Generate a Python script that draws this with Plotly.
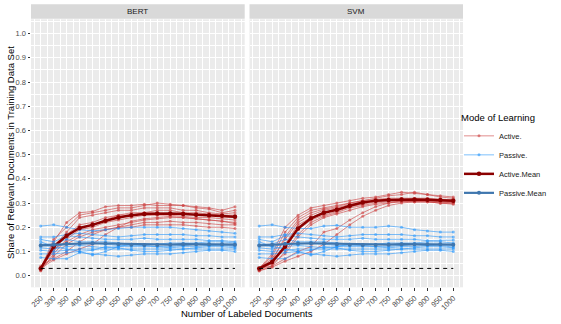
import plotly.graph_objects as go

W, H = 561, 324
n_labeled = [250, 300, 350, 400, 450, 500, 550, 600, 650, 700, 750, 800, 850, 900, 950, 1000]
panels = ["BERT", "SVM"]
baseline_share = 0.03

bert_active = [
    [0.03, 0.14, 0.22, 0.26, 0.265, 0.285, 0.29, 0.29, 0.295, 0.29, 0.29, 0.29, 0.285, 0.28, 0.27, 0.285],
    [0.03, 0.15, 0.20, 0.25, 0.26, 0.27, 0.28, 0.28, 0.29, 0.30, 0.295, 0.29, 0.28, 0.275, 0.26, 0.27],
    [0.02, 0.12, 0.18, 0.24, 0.25, 0.26, 0.27, 0.27, 0.28, 0.28, 0.28, 0.27, 0.27, 0.26, 0.255, 0.26],
    [0.03, 0.10, 0.17, 0.21, 0.22, 0.24, 0.25, 0.26, 0.26, 0.27, 0.27, 0.26, 0.26, 0.255, 0.25, 0.25],
    [0.03, 0.12, 0.16, 0.20, 0.21, 0.23, 0.25, 0.25, 0.26, 0.26, 0.255, 0.26, 0.25, 0.25, 0.245, 0.24],
    [0.02, 0.09, 0.15, 0.19, 0.20, 0.22, 0.23, 0.24, 0.25, 0.25, 0.25, 0.245, 0.24, 0.24, 0.235, 0.23],
    [0.03, 0.11, 0.14, 0.17, 0.19, 0.20, 0.21, 0.22, 0.23, 0.235, 0.24, 0.24, 0.235, 0.23, 0.225, 0.22],
    [0.03, 0.08, 0.13, 0.16, 0.18, 0.19, 0.20, 0.21, 0.22, 0.22, 0.225, 0.22, 0.22, 0.215, 0.21, 0.21],
    [0.04, 0.07, 0.10, 0.14, 0.17, 0.19, 0.20, 0.20, 0.21, 0.21, 0.21, 0.21, 0.205, 0.20, 0.20, 0.195],
    [0.03, 0.065, 0.09, 0.11, 0.13, 0.17, 0.20, 0.225, 0.235, 0.24, 0.245, 0.24, 0.235, 0.23, 0.225, 0.215],
]
bert_passive = [
    [0.205, 0.21, 0.20, 0.19, 0.185, 0.19, 0.195, 0.20, 0.20, 0.20, 0.20, 0.195, 0.19, 0.185, 0.18, 0.175],
    [0.16, 0.16, 0.17, 0.175, 0.17, 0.165, 0.16, 0.165, 0.17, 0.17, 0.17, 0.17, 0.165, 0.165, 0.16, 0.16],
    [0.15, 0.14, 0.165, 0.16, 0.155, 0.15, 0.15, 0.15, 0.155, 0.15, 0.15, 0.15, 0.15, 0.145, 0.145, 0.14],
    [0.13, 0.13, 0.15, 0.14, 0.14, 0.14, 0.135, 0.13, 0.13, 0.13, 0.135, 0.135, 0.135, 0.14, 0.14, 0.135],
    [0.125, 0.12, 0.13, 0.13, 0.135, 0.13, 0.125, 0.125, 0.125, 0.12, 0.12, 0.125, 0.13, 0.13, 0.13, 0.13],
    [0.115, 0.11, 0.12, 0.125, 0.12, 0.115, 0.12, 0.12, 0.12, 0.12, 0.115, 0.12, 0.12, 0.125, 0.125, 0.12],
    [0.105, 0.10, 0.105, 0.11, 0.11, 0.11, 0.11, 0.11, 0.11, 0.11, 0.11, 0.11, 0.115, 0.12, 0.12, 0.115],
    [0.09, 0.09, 0.095, 0.10, 0.105, 0.12, 0.115, 0.105, 0.10, 0.10, 0.105, 0.11, 0.11, 0.11, 0.11, 0.11],
    [0.075, 0.07, 0.07, 0.095, 0.09, 0.085, 0.08, 0.085, 0.09, 0.09, 0.09, 0.095, 0.10, 0.105, 0.105, 0.10],
    [0.14, 0.12, 0.11, 0.10, 0.085, 0.10, 0.12, 0.13, 0.125, 0.13, 0.13, 0.125, 0.13, 0.125, 0.13, 0.125],
]
bert_active_mean = [0.03, 0.12, 0.165, 0.197, 0.21, 0.227, 0.24, 0.25, 0.255, 0.257, 0.257, 0.255, 0.252, 0.25, 0.248, 0.243]
bert_passive_mean = [0.125, 0.128, 0.132, 0.133, 0.134, 0.133, 0.13, 0.128, 0.127, 0.127, 0.128, 0.13, 0.13, 0.13, 0.13, 0.128]

svm_active = [
    [0.03, 0.09, 0.20, 0.25, 0.28, 0.29, 0.30, 0.31, 0.32, 0.325, 0.335, 0.345, 0.34, 0.335, 0.33, 0.325],
    [0.03, 0.08, 0.18, 0.24, 0.27, 0.28, 0.29, 0.30, 0.31, 0.32, 0.33, 0.335, 0.345, 0.335, 0.325, 0.32],
    [0.02, 0.06, 0.16, 0.23, 0.26, 0.275, 0.285, 0.30, 0.31, 0.315, 0.32, 0.32, 0.32, 0.32, 0.315, 0.315],
    [0.03, 0.07, 0.15, 0.22, 0.25, 0.27, 0.28, 0.295, 0.305, 0.31, 0.315, 0.315, 0.315, 0.315, 0.31, 0.31],
    [0.025, 0.05, 0.13, 0.21, 0.24, 0.26, 0.275, 0.29, 0.30, 0.31, 0.31, 0.31, 0.31, 0.31, 0.31, 0.305],
    [0.03, 0.06, 0.12, 0.19, 0.23, 0.25, 0.265, 0.285, 0.295, 0.305, 0.31, 0.31, 0.305, 0.305, 0.30, 0.30],
    [0.02, 0.04, 0.10, 0.17, 0.22, 0.245, 0.26, 0.28, 0.29, 0.30, 0.305, 0.305, 0.31, 0.31, 0.305, 0.30],
    [0.03, 0.05, 0.09, 0.16, 0.21, 0.24, 0.255, 0.27, 0.285, 0.295, 0.30, 0.305, 0.305, 0.305, 0.30, 0.295],
    [0.03, 0.04, 0.07, 0.10, 0.12, 0.18, 0.195, 0.23, 0.26, 0.285, 0.30, 0.31, 0.31, 0.31, 0.305, 0.305],
    [0.02, 0.035, 0.06, 0.08, 0.10, 0.13, 0.17, 0.21, 0.245, 0.27, 0.29, 0.30, 0.305, 0.305, 0.30, 0.30],
]
svm_passive = [
    [0.205, 0.21, 0.20, 0.195, 0.195, 0.205, 0.208, 0.20, 0.20, 0.20, 0.205, 0.20, 0.19, 0.185, 0.18, 0.18],
    [0.16, 0.16, 0.17, 0.175, 0.17, 0.165, 0.16, 0.165, 0.17, 0.17, 0.17, 0.17, 0.165, 0.165, 0.16, 0.16],
    [0.15, 0.14, 0.165, 0.16, 0.155, 0.15, 0.15, 0.15, 0.155, 0.15, 0.15, 0.15, 0.15, 0.145, 0.145, 0.147],
    [0.13, 0.13, 0.15, 0.14, 0.14, 0.14, 0.135, 0.13, 0.13, 0.13, 0.135, 0.135, 0.135, 0.14, 0.14, 0.135],
    [0.125, 0.12, 0.13, 0.13, 0.135, 0.13, 0.125, 0.125, 0.125, 0.12, 0.12, 0.125, 0.13, 0.13, 0.13, 0.13],
    [0.115, 0.11, 0.12, 0.125, 0.12, 0.115, 0.12, 0.12, 0.12, 0.12, 0.115, 0.12, 0.12, 0.125, 0.125, 0.118],
    [0.105, 0.10, 0.105, 0.11, 0.11, 0.11, 0.11, 0.11, 0.11, 0.11, 0.11, 0.11, 0.115, 0.12, 0.12, 0.115],
    [0.09, 0.09, 0.095, 0.10, 0.105, 0.12, 0.115, 0.105, 0.10, 0.10, 0.105, 0.11, 0.11, 0.11, 0.11, 0.11],
    [0.075, 0.07, 0.07, 0.095, 0.09, 0.085, 0.08, 0.085, 0.09, 0.09, 0.09, 0.095, 0.10, 0.105, 0.105, 0.10],
    [0.14, 0.12, 0.11, 0.10, 0.085, 0.10, 0.12, 0.13, 0.125, 0.13, 0.13, 0.125, 0.13, 0.125, 0.13, 0.125],
]
svm_active_mean = [0.03, 0.057, 0.12, 0.195, 0.237, 0.26, 0.272, 0.289, 0.302, 0.31, 0.313, 0.315, 0.315, 0.314, 0.313, 0.31]
svm_passive_mean = [0.125, 0.128, 0.132, 0.133, 0.134, 0.133, 0.13, 0.128, 0.127, 0.127, 0.128, 0.13, 0.13, 0.13, 0.13, 0.128]

data = {
    "BERT": (bert_active, bert_passive, bert_active_mean, bert_passive_mean),
    "SVM": (svm_active, svm_passive, svm_active_mean, svm_passive_mean),
}

C_ACT = "rgba(205,70,70,0.62)"
C_PAS = "rgba(40,150,250,0.6)"
C_ACT_M = "#8B0000"
C_PAS_M = "#3F76AE"
FONT = "Liberation Sans, Arial, sans-serif"

fig = go.Figure()
for pi, name in enumerate(panels):
    xa = "x" if pi == 0 else "x2"
    ya = "y" if pi == 0 else "y2"
    act, pas, am, pm = data[name]
    for i, run in enumerate(act):
        fig.add_trace(go.Scatter(x=n_labeled, y=run, mode="lines+markers", xaxis=xa, yaxis=ya,
                                 line=dict(color=C_ACT, width=1), marker=dict(color=C_ACT, size=3),
                                 name="Active.", legendgroup="a", legendrank=1,
                                 showlegend=(pi == 0 and i == 0)))
    for i, run in enumerate(pas):
        fig.add_trace(go.Scatter(x=n_labeled, y=run, mode="lines+markers", xaxis=xa, yaxis=ya,
                                 line=dict(color=C_PAS, width=1), marker=dict(color=C_PAS, size=3),
                                 name="Passive.", legendgroup="p", legendrank=2,
                                 showlegend=(pi == 0 and i == 0)))
    fig.add_trace(go.Scatter(x=n_labeled, y=am, mode="lines+markers", xaxis=xa, yaxis=ya,
                             line=dict(color=C_ACT_M, width=2.5), marker=dict(color=C_ACT_M, size=4.5),
                             name="Active.Mean", legendgroup="am", legendrank=3, showlegend=(pi == 0)))
    fig.add_trace(go.Scatter(x=n_labeled, y=pm, mode="lines+markers", xaxis=xa, yaxis=ya,
                             line=dict(color=C_PAS_M, width=2.2), marker=dict(color=C_PAS_M, size=4),
                             name="Passive.Mean", legendgroup="pm", legendrank=4, showlegend=(pi == 0)))
    fig.add_trace(go.Scatter(x=[n_labeled[0], n_labeled[-1]], y=[baseline_share, baseline_share], mode="lines",
                             xaxis=xa, yaxis=ya, line=dict(color="black", width=1, dash="4px,4px"),
                             showlegend=False, hoverinfo="skip"))

def px_x(p):
    return p / W

def px_y(p):
    return 1 - p / H

xdoms = [(31, 244.7), (249.5, 463)]
ydom = [px_y(287.3), px_y(19.3)]

tick_font = dict(family=FONT, size=7.5, color="#4D4D4D")
axis_common = dict(showgrid=True, gridcolor="white", gridwidth=1, zeroline=False,
                   ticks="outside", ticklen=2.5, tickcolor="#333333", tickwidth=0.8,
                   tickfont=tick_font, showline=False, automargin=False)

layout = dict(
    width=W, height=H, margin=dict(l=0, r=0, t=0, b=0, autoexpand=False),
    paper_bgcolor="white", plot_bgcolor="#EBEBEB",
    font=dict(family=FONT, color="black"),
    showlegend=True,
    legend=dict(x=px_x(459), y=px_y(109), xanchor="left", yanchor="top",
                bgcolor="rgba(0,0,0,0)", font=dict(family=FONT, size=7.5, color="#1A1A1A"),
                title=dict(text="Mode of Learning", font=dict(family=FONT, size=9.5, color="black")),
                traceorder="normal", itemwidth=30, tracegroupgap=0),
)
for i, (a, b) in enumerate(xdoms):
    key = "xaxis" if i == 0 else "xaxis2"
    layout[key] = dict(axis_common, domain=[px_x(a), px_x(b)], range=[212.5, 1037.5],
                       tickmode="array", tickvals=n_labeled, ticktext=[str(v) for v in n_labeled],
                       tickangle=-45, anchor="y" if i == 0 else "y2",
                       minor=dict(dtick=25, tick0=250, showgrid=True, gridcolor="white", gridwidth=0.5, ticks=""))
    ykey = "yaxis" if i == 0 else "yaxis2"
    layout[ykey] = dict(axis_common, domain=ydom, range=[-0.048, 1.059], tickmode="linear", tick0=0, dtick=0.1,
                        tickformat=".1f", anchor="x" if i == 0 else "x2", showticklabels=(i == 0),
                        ticks="outside" if i == 0 else "",
                        minor=dict(dtick=0.05, tick0=0, showgrid=True, gridcolor="white", gridwidth=0.5, ticks=""))
fig.update_layout(**layout)

shapes = []
annotations = []
for i, (a, b) in enumerate(xdoms):
    shapes.append(dict(type="rect", xref="paper", yref="paper", x0=px_x(a), x1=px_x(b),
                       y0=px_y(18.8), y1=px_y(4.3), fillcolor="#D9D9D9", line=dict(width=0), layer="below"))
    annotations.append(dict(text=panels[i], xref="paper", yref="paper", x=px_x((a + b) / 2), y=px_y(11.5),
                            showarrow=False, xanchor="center", yanchor="middle",
                            font=dict(family=FONT, size=8, color="#1A1A1A")))
annotations.append(dict(text="Number of Labeled Documents", xref="paper", yref="paper", x=px_x(247), y=px_y(313),
                        showarrow=False, xanchor="center", yanchor="middle",
                        font=dict(family=FONT, size=9.5, color="black")))
annotations.append(dict(text="Share of Relevant Documents in Training Data Set", xref="paper", yref="paper",
                        x=px_x(10), y=px_y(153), textangle=-90, showarrow=False, xanchor="center",
                        yanchor="middle", font=dict(family=FONT, size=9.5, color="black")))
fig.update_layout(shapes=shapes, annotations=annotations)

fig.write_html("out.html", config={"displayModeBar": False},
               post_script="document.body.style.margin='0';document.body.style.padding='0';")
